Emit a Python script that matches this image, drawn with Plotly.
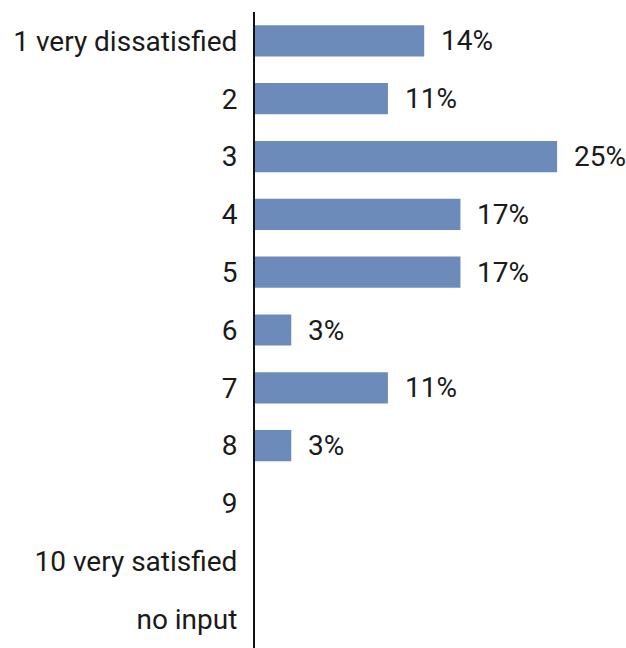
import plotly.graph_objects as go

# Satisfaction rating distribution (share of responses, %)
categories = ["1 very dissatisfied", "2", "3", "4", "5", "6", "7", "8", "9",
              "10 very satisfied", "no input"]
shares = [14, 11, 25, 17, 17, 3, 11, 3, None, None, None]

bar_color = "#6c8aba"
text_color = "#1a1a1a"
font_family = "Roboto, Noto Sans, sans-serif"

fig = go.Figure()
fig.add_trace(go.Bar(
    y=categories,
    x=shares,
    orientation="h",
    marker=dict(color=bar_color, line=dict(width=0)),
    hoverinfo="skip",
))

# Percentage labels to the right of each bar (y given as category index)
for i, val in enumerate(shares):
    if val is None:
        continue
    fig.add_annotation(
        x=val, y=i, text=f"{val}%", showarrow=False,
        xanchor="left", yanchor="middle", xshift=15,
        font=dict(family=font_family, size=28, color=text_color),
    )

fig.update_layout(
    width=626, height=648,
    margin=dict(l=255, r=0, t=12, b=0),
    paper_bgcolor="white", plot_bgcolor="white",
    bargap=0.46,
    showlegend=False,
    font=dict(family=font_family, size=28, color=text_color),
)
fig.update_xaxes(
    range=[0, 30.7], visible=False, fixedrange=True,
)
fig.update_yaxes(
    type="category",
    autorange="reversed",
    categoryorder="array", categoryarray=categories,
    showline=True, linecolor="#111111", linewidth=2,
    showgrid=False, zeroline=False,
    ticks="", ticklabelstandoff=10,
    tickfont=dict(family=font_family, size=28, color=text_color),
)

fig.write_html("out.html")
